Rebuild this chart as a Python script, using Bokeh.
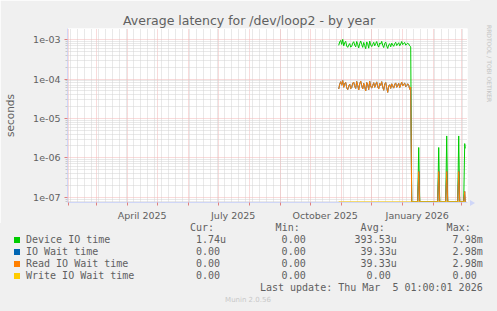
import numpy as np
import pandas as pd
from bokeh.plotting import figure
from bokeh.layouts import column, row
from bokeh.models import (FixedTicker, DatetimeTickFormatter, CustomJSTickFormatter,
                          Range1d, Div)
from bokeh.embed import file_html
from bokeh.resources import INLINE

# ---------------- data ----------------
title = "Average latency for /dev/loop2 - by year"
y_label = "seconds"
series_names = ["Device IO time", "IO Wait time", "Read IO Wait time", "Write IO Wait time"]
series_colors = ["#00CC00", "#0066B3", "#FF8000", "#FFCC00"]
cur_vals = ["1.74u", "0.00", "0.00", "0.00"]
min_vals = ["0.00", "0.00", "0.00", "0.00"]
avg_vals = ["393.53u", "39.33u", "39.33u", "0.00"]
max_vals = ["7.98m", "2.98m", "2.98m", "0.00"]
headers = ["Cur:", "Min:", "Avg:", "Max:"]
last_update = "Last update: Thu Mar  5 01:00:01 2026"
footer = "Munin 2.0.56"
side_text = "RRDTOOL / TOBI OETIKER"

x_start = "2025-01-31 07:00"
x_end = "2026-03-07 07:00"
y_decades = [1e-7, 1e-6, 1e-5, 1e-4, 1e-3]
x_label_dates = ["2025-04-16", "2025-07-16", "2025-10-16", "2026-01-16"]

# daily averages (noon) while the device was active
active_start = "2025-10-29 12:00"
device_active = [7.2, 8.8, 9.6, 7.6, 10.2, 7.0, 8.4, 9.1, 6.9, 6.4, 7.3, 8.0, 6.5, 6.8, 8.2,
                 8.9, 7.3, 6.6, 9.0, 7.5, 6.2, 8.1, 9.3, 7.6, 6.4, 8.5, 7.1, 5.9, 8.8, 7.9,
                 6.1, 9.2, 7.4, 6.7, 7.6, 8.6, 7.0, 8.0, 9.0, 7.2, 6.5, 8.3, 7.7, 9.1, 7.2,
                 6.3, 8.1, 8.7, 6.9, 6.0, 7.5, 7.9, 6.6, 8.2, 7.4, 6.8, 8.0, 8.6, 7.1, 7.7,
                 8.4, 7.0, 7.8, 9.0, 7.5, 8.1, 8.5, 7.3, 7.6, 8.2, 7.8, 7.0, 6.6]   # x 1e-4 s
read_active = [5.6, 7.4, 8.6, 7.0, 9.2, 6.2, 7.8, 8.3, 6.0, 5.4, 6.6, 7.5, 5.7, 6.1, 7.9,
               8.4, 6.5, 5.8, 8.7, 6.9, 5.3, 7.6, 8.9, 6.8, 5.6, 7.8, 6.3, 5.0, 8.2, 7.2,
               5.4, 8.8, 6.6, 5.9, 6.9, 8.1, 6.2, 7.3, 8.5, 6.4, 5.6, 7.7, 6.9, 8.6, 6.3,
               5.2, 7.4, 8.2, 6.0, 4.6, 6.7, 7.2, 5.8, 7.6, 6.6, 5.9, 7.4, 8.0, 6.2, 6.9,
               7.8, 6.1, 7.1, 8.4, 6.7, 7.5, 7.9, 6.4, 6.8, 7.6, 7.0, 5.5, 6.3]     # x 1e-5 s
# later, mostly idle days with a few short bursts
idle_end = "2026-03-04 12:00"
spike_dates = ["2026-01-17 12:00", "2026-02-06 12:00", "2026-02-14 12:00",
               "2026-02-26 12:00", "2026-03-04 12:00"]
device_spikes = [1.83e-6, 1.83e-6, 3.6e-6, 3.6e-6, 2.3e-6]
read_spikes = [4.5e-7, 4.5e-7, 4.5e-7, 4.5e-7, 1.4e-7]
last_time = "2026-03-05 01:00"
device_last = 1.74e-6
read_last = 0.0

# ---------------- build series ----------------
act_dates = pd.date_range(active_start, periods=len(device_active), freq="D")
idle_dates = pd.date_range(act_dates[-1] + pd.Timedelta(days=1), idle_end, freq="D")
dates = list(act_dates) + list(idle_dates) + [pd.Timestamp(last_time)]
dev = [v * 1e-4 for v in device_active] + [0.0] * len(idle_dates) + [device_last]
rd = [v * 1e-5 for v in read_active] + [0.0] * len(idle_dates) + [read_last]
for d, dv, rv in zip(spike_dates, device_spikes, read_spikes):
    i = dates.index(pd.Timestamp(d))
    dev[i] = dv
    rd[i] = rv
iowait = list(rd)
wr = [0.0] * len(dates)

y_lo = 10 ** -7.134
y_hi = 10 ** -2.715
floor = 10 ** (-7.134 + 0.015)


def clamp(vals):
    a = np.array(vals, dtype=float)
    return np.where(a > 0, a, floor)


# ---------------- main chart ----------------
W = 497
H = 311
H_MAIN = 223
H_LEG = H - H_MAIN
FL, FR_EDGE = 67, 467
P_W = 470
FONT = "#606060"
AXIS = "#CFD6F8"
MGRID = "#F3B6B6"
GRID = "#D2D2D2"
BG = "#F0F0F0"

p = figure(width=P_W, height=H_MAIN, x_axis_type="datetime", y_axis_type="log",
           output_backend="svg", toolbar_location=None,
           x_range=Range1d(pd.Timestamp(x_start), pd.Timestamp(x_end)),
           y_range=Range1d(y_lo, y_hi),
           min_border_left=FL, min_border_right=P_W - FR_EDGE, min_border_top=28,
           min_border_bottom=20)
p.background_fill_color = "#FFFFFF"
p.border_fill_color = BG
p.outline_line_color = None

p.title.text = title
p.title.align = "left"
p.title.offset = 55.5
p.title.text_font = "DejaVu Sans"
p.title.text_font_size = "12.5px"
p.title.text_font_style = "normal"
p.title.text_color = FONT
p.title.standoff = 1

month_starts = pd.date_range("2025-02-01", "2026-03-01", freq="MS")
week_starts = pd.date_range("2025-02-03", "2026-03-07", freq="W-MON")
ms = lambda idx: [pd.Timestamp(t).value / 1e6 for t in idx]
minor_y = [m * d for d in [1e-8] + y_decades for m in range(2, 10)]

xa = p.xaxis[0]
xa.ticker = FixedTicker(ticks=ms(x_label_dates), minor_ticks=ms(month_starts))
fmt = "%B %Y"
xa.formatter = DatetimeTickFormatter(years=fmt, months=fmt, days=fmt, hours=fmt, hourmin=fmt,
                                     minutes=fmt, minsec=fmt, seconds=fmt,
                                     milliseconds=fmt, microseconds=fmt)
xa.major_tick_line_color = None
xa.major_tick_out = 0
xa.major_tick_in = 0
xa.minor_tick_line_color = "#E08080"
xa.minor_tick_out = 3
xa.minor_tick_in = 0
xa.axis_line_color = AXIS
xa.major_label_text_font = "DejaVu Sans"
xa.major_label_text_font_size = "9.5px"
xa.major_label_text_color = FONT
xa.major_label_standoff = 4

ya = p.yaxis[0]
ya.ticker = FixedTicker(ticks=y_decades, minor_ticks=minor_y)
ya.formatter = CustomJSTickFormatter(code="""
const s = tick.toExponential(0);
const m = s.match(/^(\\d)e([+-])(\\d+)$/);
if (!m) return s;
return m[1] + 'e' + m[2] + (m[3].length < 2 ? '0' + m[3] : m[3]);
""")
ya.major_tick_line_color = "#E08080"
ya.major_tick_out = 3
ya.major_tick_in = 0
ya.minor_tick_line_color = "#C8C8C8"
ya.minor_tick_out = 2
ya.minor_tick_in = 0
ya.axis_line_color = AXIS
ya.major_label_text_font = "DejaVu Sans"
ya.major_label_text_font_size = "9.5px"
ya.major_label_text_color = FONT
ya.major_label_standoff = 4
ya.axis_label = y_label
ya.axis_label_text_font = "DejaVu Sans"
ya.axis_label_text_font_size = "10.5px"
ya.axis_label_text_font_style = "normal"
ya.axis_label_text_color = FONT
ya.axis_label_standoff = 14

xg = p.xgrid[0]
xg.ticker = FixedTicker(ticks=ms(month_starts), minor_ticks=ms(week_starts))
xg.grid_line_color = MGRID
xg.grid_line_dash = "1 1"
xg.minor_grid_line_color = GRID
xg.minor_grid_line_dash = "1 1"
yg = p.ygrid[0]
yg.ticker = FixedTicker(ticks=y_decades, minor_ticks=minor_y)
yg.grid_line_color = MGRID
yg.grid_line_dash = "1 1"
yg.minor_grid_line_color = GRID
yg.minor_grid_line_dash = "1 1"

for vals, col in zip([dev, iowait, rd, wr], series_colors):
    p.line(dates, clamp(vals), line_color=col, line_width=1)

# ---------------- side text (right strip) ----------------
side_w = W - P_W
side = Div(width=side_w, height=H_MAIN, margin=0,
           text=(f'<div style="position:relative;width:{side_w}px;height:{H_MAIN}px;'
                 f'background:{BG};overflow:hidden">'
                 f'<span style="position:absolute;left:0px;top:200px;width:0;height:0;'
                 f'border-top:3px solid transparent;border-bottom:3px solid transparent;'
                 f'border-left:5px solid {AXIS}"></span>'
                 f'<span style="position:absolute;left:{488.5 - P_W - 4}px;top:25px;'
                 f'writing-mode:vertical-rl;font-family:\'DejaVu Sans\';font-size:6px;'
                 f'line-height:8px;color:#C4C4C4;white-space:nowrap">{side_text}</span></div>'))

# ---------------- legend panel ----------------
MONO = "'DejaVu Sans Mono'"
CW = 6.02
rows_y = [240, 252, 264, 276]
col_right = [226.0, 311.7, 396.7, 482.7]
parts = []


def span(text, x, y, align="left", size=10, font=MONO, color=FONT, lh=12):
    top = y - H_MAIN - lh / 2
    if align == "left":
        pos = f"left:{x:.1f}px;"
    elif align == "right":
        pos = f"right:{W - x:.1f}px;"
    else:
        pos = f"left:{x:.1f}px;transform:translateX(-50%);"
    parts.append(f'<span style="position:absolute;{pos}top:{top:.1f}px;font-family:{font};'
                 f'font-size:{size}px;line-height:{lh}px;color:{color};white-space:pre">'
                 f'{text}</span>')


for h, cr in zip(headers, col_right):
    span(h, cr - 2 * CW, 228, align="right")
for i, (name, colr) in enumerate(zip(series_names, series_colors)):
    y = rows_y[i]
    parts.append(f'<span style="position:absolute;left:14px;top:{y - H_MAIN - 3}px;'
                 f'width:6px;height:6px;background:{colr}"></span>')
    span(name, 26, y)
    for vals, cr in zip([cur_vals, min_vals, avg_vals, max_vals], col_right):
        s = vals[i]
        off = 0 if s[-1].isalpha() else CW
        span(s, cr - off, y, align="right")
span(last_update, 482.7, 288, align="right")
span(footer, 248, 300, align="center", size=7, font="'DejaVu Sans'", color="#C8C8C8", lh=9)

legend = Div(width=W, height=H_LEG, margin=0,
             text=(f'<div style="position:relative;width:{W}px;height:{H_LEG}px;'
                   f'background:{BG};overflow:hidden">' + "".join(parts) + '</div>'))

layout = column(row(p, side, spacing=0), legend, spacing=0)
open("out.html", "w").write(file_html(layout, INLINE))
